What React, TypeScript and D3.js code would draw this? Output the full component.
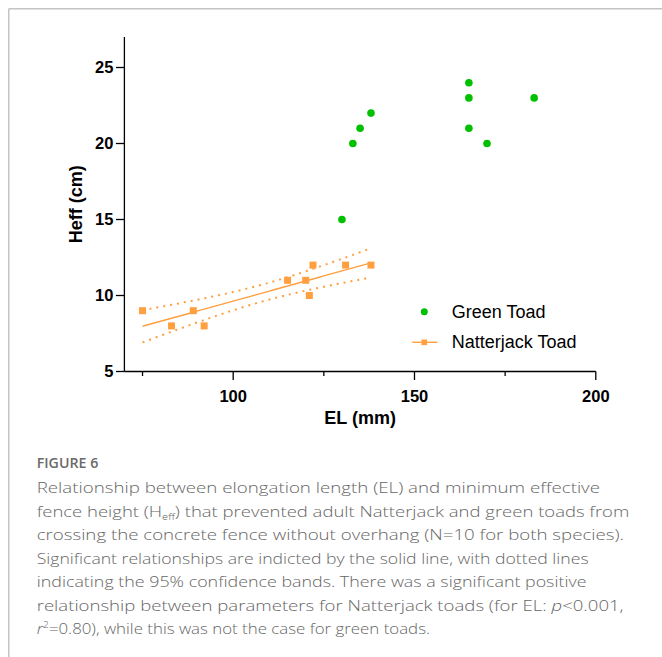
import React from 'react';
import * as d3 from 'd3';

// ---- data ----
const greenEL = [130, 133, 135, 138, 165, 165, 165, 170, 183];
const greenH = [15, 20, 21, 22, 24, 23, 21, 20, 23];
const natEL = [75, 83, 89, 92, 115, 120, 121, 122, 131, 138];
const natH = [9, 8, 9, 8, 11, 11, 10, 12, 12, 12];
const xMajorTicks = [100, 150, 200];
const xMinorTicks = [75, 125, 175];
const yTicks = [5, 10, 15, 20, 25];
const legendLabels = ['Green Toad', 'Natterjack Toad'];
const xTitle = 'EL (mm)';
const yTitle = 'Heff (cm)';

const GREEN = '#00C000';
const ORANGE = '#FF9F40';
const AXIS_FONT = '"Liberation Sans", Arial, sans-serif';
const CAP_FONT = '"Open Sans", "Noto Sans", sans-serif';

// linear regression with 95% confidence band
function regression(xs: number[], ys: number[]) {
  const n = xs.length;
  const mx = d3.mean(xs)!;
  const my = d3.mean(ys)!;
  let sxx = 0, sxy = 0, syy = 0;
  xs.forEach((x, i) => {
    sxx += (x - mx) ** 2;
    sxy += (x - mx) * (ys[i] - my);
    syy += (ys[i] - my) ** 2;
  });
  const b = sxy / sxx;
  const a = my - b * mx;
  const sse = syy - b * sxy;
  const s = Math.sqrt(sse / (n - 2));
  const t = 2.306; // t(0.975, df=8)
  const fit = (x: number) => a + b * x;
  const half = (x: number) => t * s * Math.sqrt(1 / n + (x - mx) ** 2 / sxx);
  return { fit, half };
}

export default function App() {
  const x = d3.scaleLinear().domain([70, 200]).range([124.4, 595.8]);
  const y = d3.scaleLinear().domain([5, 27]).range([371.5, 37.1]);
  const reg = regression(natEL, natH);
  const xMin = d3.min(natEL)!;
  const xMax = d3.max(natEL)!;
  const samples = d3.range(xMin, xMax + 0.001, 0.5);
  const line = d3.line<number>().x((d) => x(d)).y((d) => y(reg.fit(d)));
  const upper = d3.line<number>().x((d) => x(d)).y((d) => y(reg.fit(d) + reg.half(d)));
  const lower = d3.line<number>().x((d) => x(d)).y((d) => y(reg.fit(d) - reg.half(d)));

  const capLines: { text: React.ReactNode; len: number }[] = [
    { text: 'Relationship between elongation length (EL) and minimum effective', len: 563.3 },
    {
      text: (
        <>
          fence height (H<tspan fontSize="9" dy="3">eff</tspan>
          <tspan dy="-3">) that prevented adult Natterjack and green toads from</tspan>
        </>
      ),
      len: 592.6,
    },
    { text: 'crossing the concrete fence without overhang (N=10 for both species).', len: 587.3 },
    { text: 'Significant relationships are indicted by the solid line, with dotted lines', len: 551.9 },
    { text: 'indicating the 95% confidence bands. There was a significant positive', len: 549.8 },
    {
      text: (
        <>
          relationship between parameters for Natterjack toads (for EL: <tspan fontStyle="italic">p</tspan>
          {'<0.001,'}
        </>
      ),
      len: 586.9,
    },
    {
      text: (
        <>
          <tspan fontStyle="italic">r</tspan>
          <tspan fontSize="9" dy="-6">2</tspan>
          <tspan dy="6">=0.80), while this was not the case for green toads.</tspan>
        </>
      ),
      len: 393.3,
    },
  ];

  return (
    <svg
      width={662}
      height={657}
      style={{ position: 'absolute', left: 0, top: 0, background: '#fff' }}
    >
      {/* frame */}
      <line x1={8.75} y1={8.75} x2={662} y2={8.75} stroke="#c4c4c4" strokeWidth={1.5} />
      <line x1={8.75} y1={8.75} x2={8.75} y2={657} stroke="#c4c4c4" strokeWidth={1.5} />

      {/* axes */}
      <g stroke="#000" strokeWidth={1.3}>
        <line x1={x(70)} x2={x(70)} y1={y(5)} y2={y(27)} />
        <line x1={x(70)} x2={x(200)} y1={y(5)} y2={y(5)} />
        {yTicks.map((t) => (
          <line key={'yt' + t} x1={x(70) - 8.5} x2={x(70)} y1={y(t)} y2={y(t)} />
        ))}
        {xMajorTicks.map((t) => (
          <line key={'xt' + t} x1={x(t)} x2={x(t)} y1={y(5)} y2={y(5) + 8.5} />
        ))}
        {xMinorTicks.map((t) => (
          <line key={'xm' + t} x1={x(t)} x2={x(t)} y1={y(5)} y2={y(5) + 4.5} />
        ))}
      </g>
      <g fontFamily={AXIS_FONT} fontWeight="bold" fontSize={16.5} fill="#000">
        {yTicks.map((t) => (
          <text key={'yl' + t} x={x(70) - 11} y={y(t) + 5.9} textAnchor="end">
            {t}
          </text>
        ))}
        {xMajorTicks.map((t) => (
          <text key={'xl' + t} x={x(t)} y={402} textAnchor="middle">
            {t}
          </text>
        ))}
        <text x={(x(70) + x(200)) / 2} y={424} textAnchor="middle" fontSize={18}>
          {xTitle}
        </text>
        <text
          transform={`translate(82,${(y(5) + y(27)) / 2}) rotate(-90)`}
          textAnchor="middle"
          fontSize={18}
        >
          {yTitle}
        </text>
      </g>

      {/* regression and bands */}
      <path d={line(samples)!} fill="none" stroke={ORANGE} strokeWidth={1.4} />
      <path d={upper(samples)!} fill="none" stroke={ORANGE} strokeWidth={2} strokeDasharray="2 5" />
      <path d={lower(samples)!} fill="none" stroke={ORANGE} strokeWidth={2} strokeDasharray="2 5" />

      {/* points */}
      {natEL.map((e, i) => (
        <rect key={'n' + i} x={x(e) - 3.5} y={y(natH[i]) - 3.5} width={7} height={7} fill={ORANGE} />
      ))}
      {greenEL.map((e, i) => (
        <circle key={'g' + i} cx={x(e)} cy={y(greenH[i])} r={3.8} fill={GREEN} />
      ))}

      {/* legend */}
      <circle cx={424.3} cy={311.7} r={3.5} fill={GREEN} />
      <line x1={412.3} x2={437.3} y1={342.3} y2={342.3} stroke={ORANGE} strokeWidth={1.4} />
      <rect x={421.5} y={339.5} width={5.6} height={5.6} fill={ORANGE} />
      <g fontFamily={AXIS_FONT} fontSize={18} fill="#000">
        <text x={451.7} y={317.8}>{legendLabels[0]}</text>
        <text x={451.7} y={348.4}>{legendLabels[1]}</text>
      </g>

      {/* caption */}
      <text
        x={36.7}
        y={468.3}
        fontFamily={CAP_FONT}
        fontWeight={600}
        fontSize={14}
        fill="#6a6a6a"
        textLength={61.6}
        lengthAdjust="spacingAndGlyphs"
      >
        FIGURE 6
      </text>
      <g fontFamily={CAP_FONT} fontWeight={300} fontSize={15} fill="#666">
        {capLines.map((l, i) => (
          <text
            key={'c' + i}
            x={36.7}
            y={493.3 + i * 23.5}
            textLength={l.len}
            lengthAdjust="spacingAndGlyphs"
          >
            {l.text}
          </text>
        ))}
      </g>
    </svg>
  );
}
